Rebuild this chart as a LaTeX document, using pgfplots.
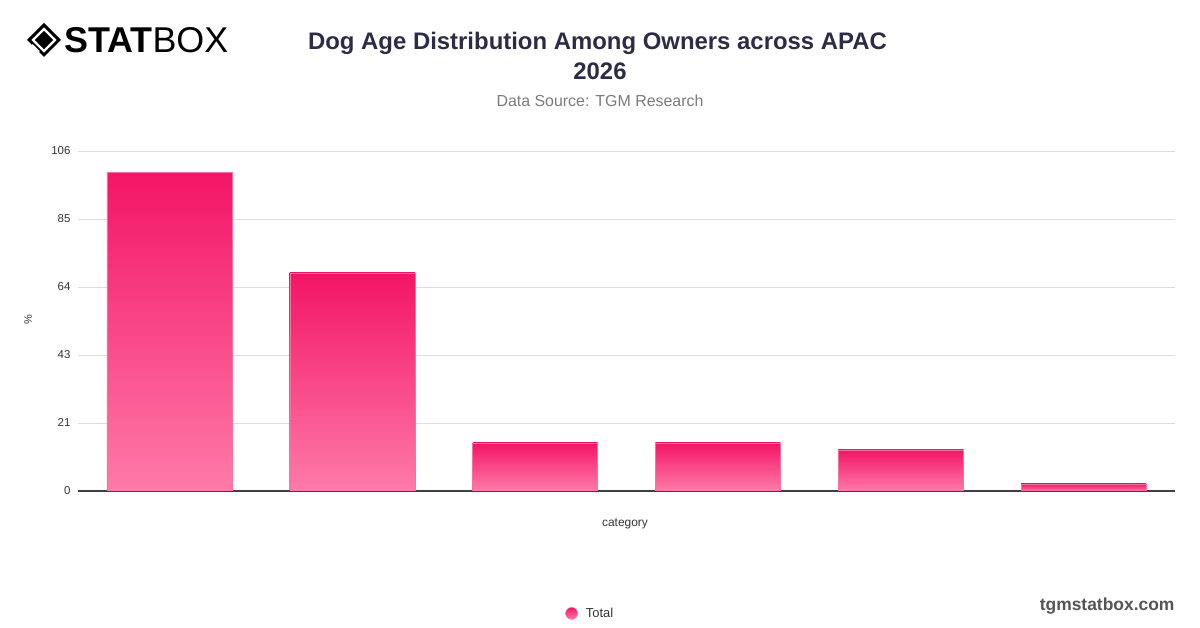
\documentclass[border=0pt]{standalone}
\usepackage{pgfplots}
\pgfplotsset{compat=1.18}
\usepackage{fontspec}
\setmainfont{Liberation Sans}
\definecolor{titlec}{HTML}{2D2B45}
\definecolor{subc}{HTML}{7A7A7A}
\definecolor{tickc}{HTML}{333333}
\definecolor{gridc}{HTML}{DDDDDD}
\definecolor{barTop}{HTML}{F31566}
\definecolor{barBot}{HTML}{FE7BA8}
\definecolor{barEdge}{HTML}{F7709F}
\definecolor{brandc}{HTML}{555555}
\begin{document}
\begin{tikzpicture}[x=1bp,y=1bp]
\path[use as bounding box] (0,0) rectangle (1200,628);
% logo
\begin{scope}[shift={(44,588)}]
\fill[black] (0,-17) -- (17,0) -- (0,17) -- (-17,0) -- cycle;
\draw[white, line width=2.2bp] (0,-11) -- (11,0) -- (0,11) -- (-11,0) -- cycle;
\draw[white, line width=2.2bp] (-5,-12) -- (-12,-5);
\end{scope}
\node[anchor=west, inner sep=0pt] at (64,588) {\fontsize{36}{40}\selectfont\textbf{STAT}BOX};
% titles
\node[text=titlec, font=\bfseries\fontsize{24}{27}\selectfont] at (597.5,585) {Dog Age Distribution Among Owners across APAC};
\node[text=titlec, font=\bfseries\fontsize{24}{27}\selectfont] at (600,557) {2026};
\node[text=subc, font=\fontsize{16}{19}\selectfont] at (600,527) {Data Source: TGM Research};
\node[text=tickc, font=\fontsize{12}{14}\selectfont] at (625,104) {category};
\node[text=tickc, font=\fontsize{11}{13}\selectfont, rotate=90] at (28,308) {\%};
\node[anchor=east, text=brandc, font=\bfseries\fontsize{17.5}{20}\selectfont] at (1178,22) {tgmstatbox.com};
\begin{axis}[
  at={(78bp,137bp)}, anchor=south west,
  scale only axis, width=1097bp, height=340bp,
  xmin=-0.5, xmax=5.5, ymin=0, ymax=106,
  ytick={0,21.2,42.4,63.6,84.8,106},
  yticklabels={0,21,43,64,85,106},
  xtick=\empty,
  ymajorgrids, grid style={color=gridc, line width=0.8bp},
  axis x line=bottom, axis y line=left,
  axis line style={-},
  x axis line style={color=black!75, line width=1.2bp},
  y axis line style={draw=none},
  major tick length=0pt,
  /pgf/number format/assume math mode=true,
  yticklabel style={text=tickc, font=\fontsize{11.5}{13}\selectfont, xshift=-4bp},
  legend style={at={(0.467,-0.36)}, anchor=center, draw=none, fill=none,
    font=\fontsize{13}{15}\selectfont, text=tickc},
  legend image code/.code={\path (0,0) (18bp,0);\shade[top color=barTop, bottom color=barBot] (6bp,0) circle (6bp);},
  barstyle/.style={ybar, bar width=0.684, bar shift=0pt, top color=barTop, bottom color=barBot, draw=barEdge, line width=0.4bp},
]
\addplot[barstyle] coordinates {(0,99.4)};
\addlegendentry{Total}
\addplot[barstyle, forget plot] coordinates {(1,68)};
\addplot[barstyle, forget plot] coordinates {(2,15)};
\addplot[barstyle, forget plot] coordinates {(3,15)};
\addplot[barstyle, forget plot] coordinates {(4,12.8)};
\addplot[barstyle, forget plot] coordinates {(5,2.2)};
\end{axis}
\end{tikzpicture}
\end{document}
